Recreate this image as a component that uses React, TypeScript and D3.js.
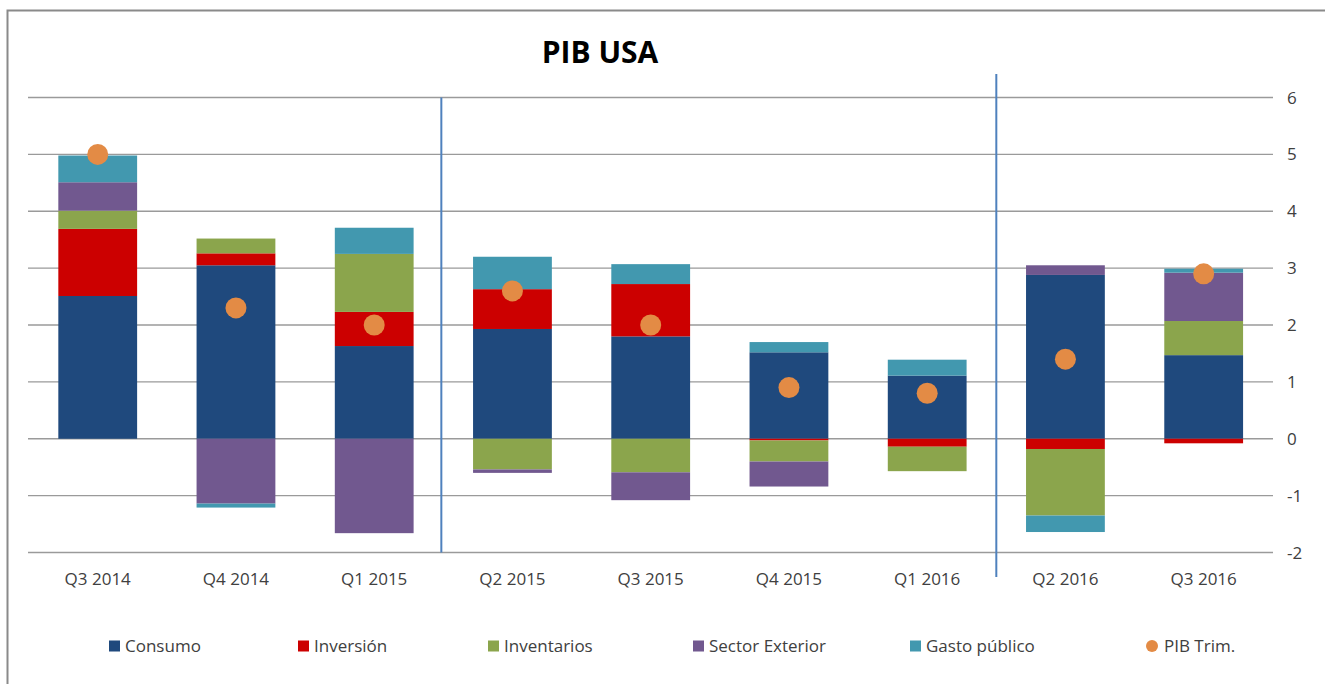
import React, { useEffect } from 'react';
import * as d3 from 'd3';

const categories = ['Q3 2014', 'Q4 2014', 'Q1 2015', 'Q2 2015', 'Q3 2015', 'Q4 2015', 'Q1 2016', 'Q2 2016', 'Q3 2016'];
const consumo = [2.51, 3.05, 1.63, 1.93, 1.8, 1.52, 1.11, 2.88, 1.47];
const inversion = [1.18, 0.21, 0.6, 0.7, 0.92, -0.03, -0.14, -0.18, -0.08];
const inventarios = [0.32, 0.26, 1.02, -0.54, -0.59, -0.37, -0.43, -1.17, 0.6];
const sectorExterior = [0.5, -1.14, -1.66, -0.06, -0.49, -0.44, 0, 0.17, 0.85];
const gastoPublico = [0.47, -0.07, 0.46, 0.57, 0.35, 0.18, 0.28, -0.29, 0.07];
const pibTrim = [5.0, 2.3, 2.0, 2.6, 2.0, 0.9, 0.8, 1.4, 2.9];
const yTicks = [-2, -1, 0, 1, 2, 3, 4, 5, 6];
const seriesNames = ['Consumo', 'Inversión', 'Inventarios', 'Sector Exterior', 'Gasto público'];
const pibName = 'PIB Trim.';

const colors = ['#1f497d', '#cc0000', '#8ba54c', '#71588f', '#4298af'];
const pibColor = '#e38b45';
const font = "'Open Sans', 'Liberation Sans', sans-serif";

export default function App() {
  useEffect(() => {
    document.body.style.margin = '0';
  }, []);

  const width = 1325;
  const height = 684;

  const x = d3.scaleBand().domain(categories).range([28.6, 1272.8]).paddingInner(0.43).paddingOuter(0.215);
  const y = d3.scaleLinear().domain([-2, 6]).range([552.5, 97.5]);

  const rows = categories.map((c, i) => ({
    cat: c,
    s0: consumo[i],
    s1: inversion[i],
    s2: inventarios[i],
    s3: sectorExterior[i],
    s4: gastoPublico[i],
  }));
  const keys = ['s0', 's1', 's2', 's3', 's4'];
  const stacked = d3.stack<any>().keys(keys).offset(d3.stackOffsetDiverging)(rows);

  const mid = (a: string, b: string) => ((x(a) as number) + x.bandwidth() + (x(b) as number)) / 2;
  const sep1 = mid('Q1 2015', 'Q2 2015') - 2;
  const sep2 = mid('Q1 2016', 'Q2 2016');

  // legend layout
  const legendX = [109, 298, 488, 693, 910];
  const legendY = 646;

  return (
    <svg width={width} height={height} style={{ display: 'block', background: '#fff' }}>
      <rect x={7.5} y={10.5} width={width + 20} height={height + 20} fill="#fff" stroke="#8a8a8a" strokeWidth={2} />

      <text x={600} y={63} textAnchor="middle" fontFamily={font} fontWeight="bold" fontSize={30} fill="#000">
        PIB USA
      </text>

      {yTicks.map((t) => (
        <g key={t}>
          <line x1={28} x2={1273} y1={y(t)} y2={y(t)} stroke="#9a9a9a" strokeWidth={1.3} />
          <text x={1287} y={y(t)} dy="0.36em" fontFamily={font} fontSize={17} fill="#404040">
            {t}
          </text>
        </g>
      ))}

      {stacked.map((layer, li) => (
        <g key={layer.key} fill={colors[li]}>
          {layer.map((d, i) => {
            const top = y(Math.max(d[0], d[1]));
            const bot = y(Math.min(d[0], d[1]));
            if (bot - top <= 0) return null;
            return <rect key={i} x={x(categories[i])} y={top} width={x.bandwidth()} height={bot - top} />;
          })}
        </g>
      ))}

      <line x1={sep1} x2={sep1} y1={y(6)} y2={y(-2)} stroke="#4f81bd" strokeWidth={2} />
      <line x1={sep2} x2={sep2} y1={74} y2={577} stroke="#4f81bd" strokeWidth={2} />

      {pibTrim.map((v, i) => (
        <circle key={i} cx={(x(categories[i]) as number) + x.bandwidth() / 2} cy={y(v)} r={10.5} fill={pibColor} />
      ))}

      {categories.map((c) => (
        <text key={c} x={(x(c) as number) + x.bandwidth() / 2} y={585} textAnchor="middle" fontFamily={font} fontSize={17} fill="#404040">
          {c}
        </text>
      ))}

      {seriesNames.map((n, i) => (
        <g key={n} transform={`translate(${legendX[i]},${legendY})`}>
          <rect x={0} y={-5.5} width={11} height={11} fill={colors[i]} />
          <text x={16} y={0} dy="0.36em" fontFamily={font} fontSize={17} fill="#404040">
            {n}
          </text>
        </g>
      ))}
      <g transform={`translate(1152,${legendY})`}>
        <circle cx={0} cy={0} r={6} fill={pibColor} />
        <text x={12} y={0} dy="0.36em" fontFamily={font} fontSize={17} fill="#404040">
          {pibName}
        </text>
      </g>
    </svg>
  );
}
